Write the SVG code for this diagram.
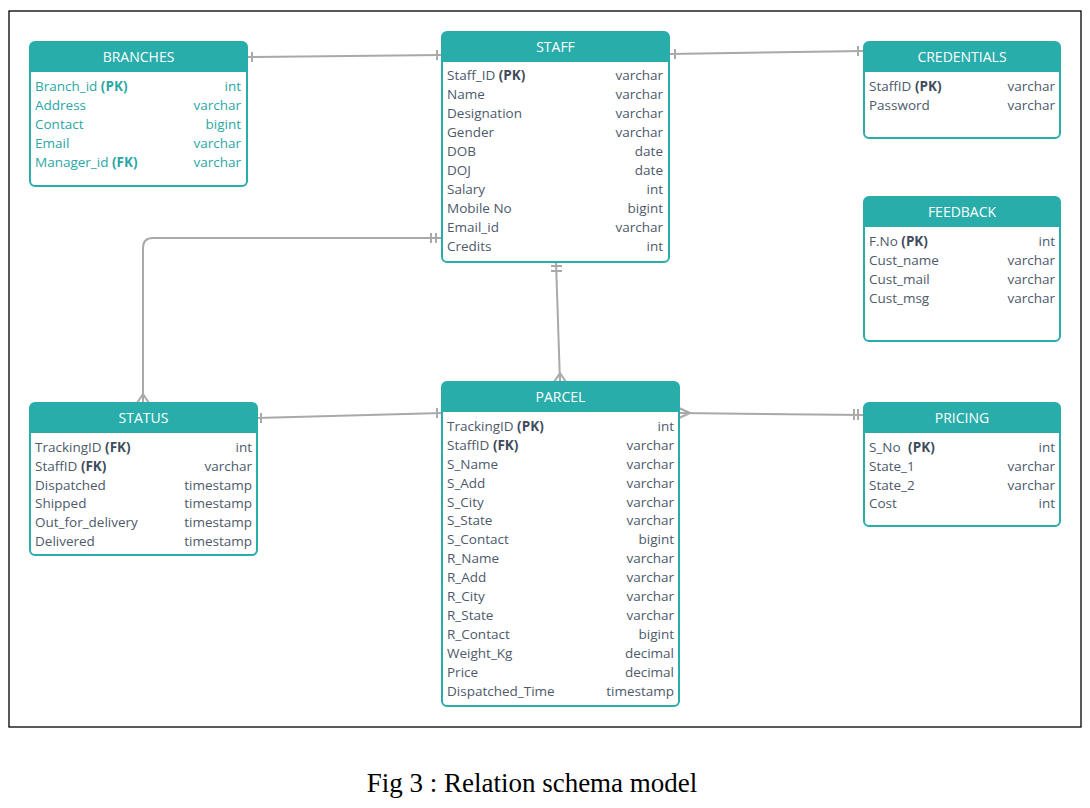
<svg xmlns="http://www.w3.org/2000/svg" width="1090" height="808" viewBox="0 0 1090 808">
<style>
.box{fill:#fff;stroke:#29adab;stroke-width:2}
.hd{fill:#29adab}
.ttl{font-family:"Open Sans","Noto Sans",sans-serif;font-size:14px;fill:#fff;text-anchor:middle}
.r{font-family:"Open Sans","Noto Sans",sans-serif;font-size:13.5px;fill:#4d5a6b}
.t{text-anchor:end}
.b{font-weight:bold;fill:#3f4b5c}
.tl{fill:#2aa7a5}
.tl .b{fill:#2aa7a5}
.c{fill:none;stroke:#a9a9a9;stroke-width:2}
.cap{font-family:"Liberation Serif",serif;font-size:27px;fill:#000;text-anchor:middle}
</style>
<rect x="0" y="0" width="1090" height="808" fill="#fff"/>
<rect x="9" y="11" width="1072" height="716" fill="none" stroke="#000" stroke-width="1.3"/>

<g id="connectors" class="c">
<path d="M247,57 L442,55 M252,52 V62 M437,50 V60"/>
<path d="M669,54 L864,51 M675,49 V59 M858,46 V56"/>
<path d="M442,238 H153 Q143,238 143,248 V403 M431,233 V243 M436,233 V243 M143,394 L137,403 M143,394 V403 M143,394 L149,403"/>
<path d="M556,262 L560,382 M551,266 H562 M551,271 H562 M560,373 L554,382 M560,373 V382 M560,373 L566,382"/>
<path d="M257,418 L442,413 M261,413 V423 M437,408 V418"/>
<path d="M679,413 L864,415 M690,413 L679,408 M690,413 L679,418 M854,409 V420 M858,409 V420"/>
</g>

<g id="branches">
<rect class="box" x="30" y="42" width="217" height="144" rx="5"/>
<path class="hd" d="M30,72 V47 Q30,42 35,42 H242 Q247,42 247,47 V72 Z"/>
<text class="ttl" x="138.5" y="62">BRANCHES</text>
<g class="r tl">
<text x="35" y="91">Branch_id <tspan class="b">(PK)</tspan></text><text class="t" x="241" y="91">int</text>
<text x="35" y="110">Address</text><text class="t" x="241" y="110">varchar</text>
<text x="35" y="129">Contact</text><text class="t" x="241" y="129">bigint</text>
<text x="35" y="148">Email</text><text class="t" x="241" y="148">varchar</text>
<text x="35" y="167">Manager_id <tspan class="b">(FK)</tspan></text><text class="t" x="241" y="167">varchar</text>
</g>
</g>

<g id="staff">
<rect class="box" x="442" y="32" width="227" height="230" rx="5"/>
<path class="hd" d="M442,62 V37 Q442,32 447,32 H664 Q669,32 669,37 V62 Z"/>
<text class="ttl" x="555.5" y="52">STAFF</text>
<g class="r">
<text x="447" y="80">Staff_ID <tspan class="b">(PK)</tspan></text><text class="t" x="663" y="80">varchar</text>
<text x="447" y="99">Name</text><text class="t" x="663" y="99">varchar</text>
<text x="447" y="118">Designation</text><text class="t" x="663" y="118">varchar</text>
<text x="447" y="137">Gender</text><text class="t" x="663" y="137">varchar</text>
<text x="447" y="156">DOB</text><text class="t" x="663" y="156">date</text>
<text x="447" y="175">DOJ</text><text class="t" x="663" y="175">date</text>
<text x="447" y="194">Salary</text><text class="t" x="663" y="194">int</text>
<text x="447" y="213">Mobile No</text><text class="t" x="663" y="213">bigint</text>
<text x="447" y="232">Email_id</text><text class="t" x="663" y="232">varchar</text>
<text x="447" y="251">Credits</text><text class="t" x="663" y="251">int</text>
</g>
</g>

<g id="credentials">
<rect class="box" x="864" y="42" width="196" height="96" rx="5"/>
<path class="hd" d="M864,72 V47 Q864,42 869,42 H1055 Q1060,42 1060,47 V72 Z"/>
<text class="ttl" x="962" y="62">CREDENTIALS</text>
<g class="r">
<text x="869" y="91">StaffID <tspan class="b">(PK)</tspan></text><text class="t" x="1055" y="91">varchar</text>
<text x="869" y="110">Password</text><text class="t" x="1055" y="110">varchar</text>
</g>
</g>

<g id="feedback">
<rect class="box" x="864" y="197" width="196" height="144" rx="5"/>
<path class="hd" d="M864,227 V202 Q864,197 869,197 H1055 Q1060,197 1060,202 V227 Z"/>
<text class="ttl" x="962" y="217">FEEDBACK</text>
<g class="r">
<text x="869" y="246">F.No <tspan class="b">(PK)</tspan></text><text class="t" x="1055" y="246">int</text>
<text x="869" y="265">Cust_name</text><text class="t" x="1055" y="265">varchar</text>
<text x="869" y="284">Cust_mail</text><text class="t" x="1055" y="284">varchar</text>
<text x="869" y="303">Cust_msg</text><text class="t" x="1055" y="303">varchar</text>
</g>
</g>

<g id="status">
<rect class="box" x="30" y="403" width="227" height="152" rx="5"/>
<path class="hd" d="M30,433 V408 Q30,403 35,403 H252 Q257,403 257,408 V433 Z"/>
<text class="ttl" x="143.5" y="423">STATUS</text>
<g class="r">
<text x="35" y="452">TrackingID <tspan class="b">(FK)</tspan></text><text class="t" x="252" y="452">int</text>
<text x="35" y="471">StaffID <tspan class="b">(FK)</tspan></text><text class="t" x="252" y="471">varchar</text>
<text x="35" y="490">Dispatched</text><text class="t" x="252" y="490">timestamp</text>
<text x="35" y="508">Shipped</text><text class="t" x="252" y="508">timestamp</text>
<text x="35" y="527">Out_for_delivery</text><text class="t" x="252" y="527">timestamp</text>
<text x="35" y="546">Delivered</text><text class="t" x="252" y="546">timestamp</text>
</g>
</g>

<g id="parcel">
<rect class="box" x="442" y="382" width="237" height="324" rx="5"/>
<path class="hd" d="M442,412 V387 Q442,382 447,382 H674 Q679,382 679,387 V412 Z"/>
<text class="ttl" x="560.5" y="402">PARCEL</text>
<g class="r">
<text x="447" y="431">TrackingID <tspan class="b">(PK)</tspan></text><text class="t" x="674" y="431">int</text>
<text x="447" y="450">StaffID <tspan class="b">(FK)</tspan></text><text class="t" x="674" y="450">varchar</text>
<text x="447" y="469">S_Name</text><text class="t" x="674" y="469">varchar</text>
<text x="447" y="488">S_Add</text><text class="t" x="674" y="488">varchar</text>
<text x="447" y="507">S_City</text><text class="t" x="674" y="507">varchar</text>
<text x="447" y="525">S_State</text><text class="t" x="674" y="525">varchar</text>
<text x="447" y="544">S_Contact</text><text class="t" x="674" y="544">bigint</text>
<text x="447" y="563">R_Name</text><text class="t" x="674" y="563">varchar</text>
<text x="447" y="582">R_Add</text><text class="t" x="674" y="582">varchar</text>
<text x="447" y="601">R_City</text><text class="t" x="674" y="601">varchar</text>
<text x="447" y="620">R_State</text><text class="t" x="674" y="620">varchar</text>
<text x="447" y="639">R_Contact</text><text class="t" x="674" y="639">bigint</text>
<text x="447" y="658">Weight_Kg</text><text class="t" x="674" y="658">decimal</text>
<text x="447" y="677">Price</text><text class="t" x="674" y="677">decimal</text>
<text x="447" y="696">Dispatched_Time</text><text class="t" x="674" y="696">timestamp</text>
</g>
</g>

<g id="pricing">
<rect class="box" x="864" y="403" width="196" height="123" rx="5"/>
<path class="hd" d="M864,433 V408 Q864,403 869,403 H1055 Q1060,403 1060,408 V433 Z"/>
<text class="ttl" x="962" y="423">PRICING</text>
<g class="r">
<text x="869" y="452">S_No <tspan class="b" dx="4">(PK)</tspan></text><text class="t" x="1055" y="452">int</text>
<text x="869" y="471">State_1</text><text class="t" x="1055" y="471">varchar</text>
<text x="869" y="490">State_2</text><text class="t" x="1055" y="490">varchar</text>
<text x="869" y="508">Cost</text><text class="t" x="1055" y="508">int</text>
</g>
</g>

<text class="cap" x="532" y="792">Fig 3 : Relation schema model</text>
</svg>
